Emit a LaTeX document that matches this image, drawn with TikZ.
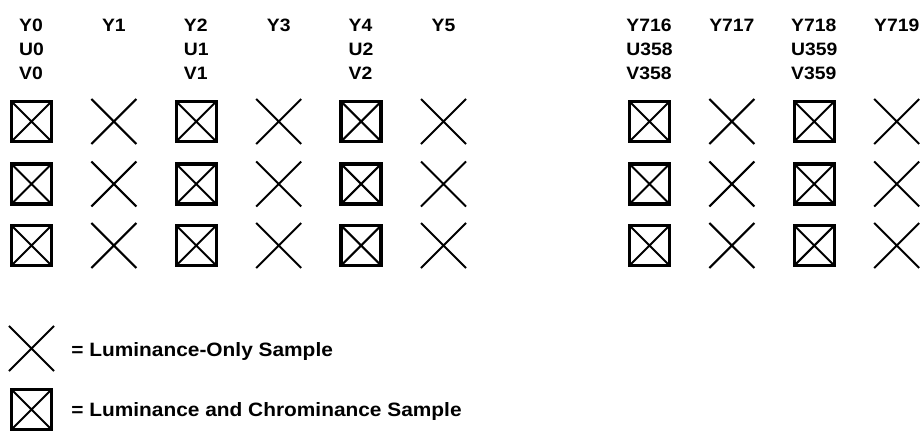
\documentclass[tikz,border=0pt]{standalone}
\usepackage{fontspec}
\setmainfont{Liberation Sans}[FakeStretch=1.08]
\usetikzlibrary{shapes.misc}

\begin{document}
\begin{tikzpicture}[x=0.02cm,y=-0.02cm,
  every node/.style={font=\fontsize{10.2}{13.6}\selectfont\bfseries},
  lbl/.style={anchor=north,align=left,inner sep=0pt},
  lumaonly/.style={cross out,draw,line width=1.15pt,minimum size=0.86cm,inner sep=0pt},
  lumachroma/.style={rectangle,draw,line width=1.9pt,minimum size=0.8cm,inner sep=0pt,
    path picture={\draw[line width=1.15pt] (path picture bounding box.north west)--(path picture bounding box.south east)
      (path picture bounding box.north east)--(path picture bounding box.south west);}},
  key/.style={anchor=west,inner sep=0pt,font=\fontsize{11}{13.6}\selectfont\bfseries}]
\useasboundingbox (0,0) rectangle (922,430);
\node[lbl] (l0) at (31.5,19) {Y0\\U0\\V0};
\node[lbl] (l1) at (113.9,19) {Y1};
\node[lbl] (l2) at (196.3,19) {Y2\\U1\\V1};
\node[lbl] (l3) at (278.7,19) {Y3};
\node[lbl] (l4) at (361.1,19) {Y4\\U2\\V2};
\node[lbl] (l5) at (443.5,19) {Y5};
\node[lbl] (l716) at (649.5,19) {Y716\\U358\\V358};
\node[lbl] (l717) at (731.9,19) {Y717};
\node[lbl] (l718) at (814.3,19) {Y718\\U359\\V359};
\node[lbl] (l719) at (896.7,19) {Y719};
\node[lumachroma] (a0) at (31.5,121.5) {};
\node[lumaonly] (a1) at (113.9,121.5) {};
\node[lumachroma] (a2) at (196.3,121.5) {};
\node[lumaonly] (a3) at (278.7,121.5) {};
\node[lumachroma] (a4) at (361.1,121.5) {};
\node[lumaonly] (a5) at (443.5,121.5) {};
\node[lumachroma] (a716) at (649.5,121.5) {};
\node[lumaonly] (a717) at (731.9,121.5) {};
\node[lumachroma] (a718) at (814.3,121.5) {};
\node[lumaonly] (a719) at (896.7,121.5) {};
\node[lumachroma] (b0) at (31.5,184) {};
\node[lumaonly] (b1) at (113.9,184) {};
\node[lumachroma] (b2) at (196.3,184) {};
\node[lumaonly] (b3) at (278.7,184) {};
\node[lumachroma] (b4) at (361.1,184) {};
\node[lumaonly] (b5) at (443.5,184) {};
\node[lumachroma] (b716) at (649.5,184) {};
\node[lumaonly] (b717) at (731.9,184) {};
\node[lumachroma] (b718) at (814.3,184) {};
\node[lumaonly] (b719) at (896.7,184) {};
\node[lumachroma] (c0) at (31.5,245.5) {};
\node[lumaonly] (c1) at (113.9,245.5) {};
\node[lumachroma] (c2) at (196.3,245.5) {};
\node[lumaonly] (c3) at (278.7,245.5) {};
\node[lumachroma] (c4) at (361.1,245.5) {};
\node[lumaonly] (c5) at (443.5,245.5) {};
\node[lumachroma] (c716) at (649.5,245.5) {};
\node[lumaonly] (c717) at (731.9,245.5) {};
\node[lumachroma] (c718) at (814.3,245.5) {};
\node[lumaonly] (c719) at (896.7,245.5) {};
\node[lumaonly] (k1) at (31.5,348.5) {};
\node[key] (t1) at (71,351) {= Luminance-Only Sample};
\node[lumachroma] (k2) at (31.5,409.5) {};
\node[key] (t2) at (71,411) {= Luminance and Chrominance Sample};
\end{tikzpicture}
\end{document}
